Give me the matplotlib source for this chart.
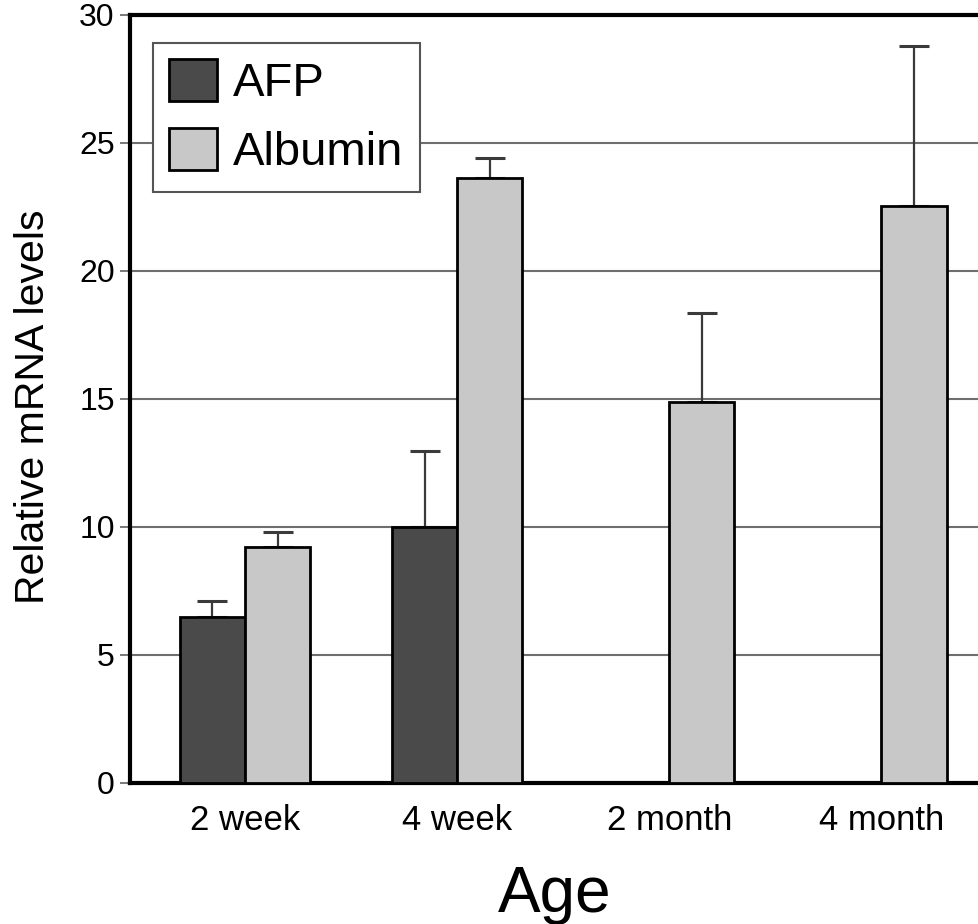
import numpy as np
import matplotlib
matplotlib.use('Agg')
from matplotlib import pyplot as plt

plt.rcParams['font.family'] = ['Liberation Sans', 'DejaVu Sans']

ages = ['2 week', '4 week', '2 month', '4 month']
afp = [6.5, 10.0, 0, 0]
afp_err = [0.6, 2.95, 0, 0]
albumin = [9.2, 23.65, 14.9, 22.55]
albumin_err = [0.6, 0.75, 3.45, 6.25]

c_afp = '#4a4a4a'
c_alb = '#c8c8c8'
w = 0.307

fig = plt.figure(figsize=(9.79, 9.24), dpi=100)
ax = fig.add_axes([130/979, 141/924, 1 - 130/979, 768/924])

x = np.arange(len(ages))
ax.bar(x - w/2, afp, w, color=c_afp, edgecolor='black', linewidth=2, zorder=3, label='AFP')
ax.bar(x + w/2, albumin, w, color=c_alb, edgecolor='black', linewidth=2, zorder=3, label='Albumin')

# upper error bars only, skip the empty AFP groups
for xs, vals, errs in [(x - w/2, afp, afp_err), (x + w/2, albumin, albumin_err)]:
    for xi, v, e in zip(xs, vals, errs):
        if v == 0:
            continue
        pl, caps, bars = ax.errorbar(xi, v, yerr=[[0], [e]], fmt='none', ecolor='#3a3a3a',
                                     elinewidth=1.6, capsize=11, capthick=2.2, zorder=2)
        for c in caps:
            c.set_color('black')

ax.set_xlim(-0.542, 3.46)
ax.set_ylim(0, 30)
ax.set_yticks(np.arange(0, 31, 5))
ax.yaxis.grid(True, color='#6e6e6e', linewidth=1.5, zorder=0)
ax.set_axisbelow(True)

ax.set_xticks(x)
ax.set_xticklabels(ages, fontsize=25)
ax.tick_params(axis='x', length=0, pad=15)
ax.tick_params(axis='y', length=7, width=1.3, color='#6e6e6e', labelsize=23, pad=4)

for s in ['left', 'bottom', 'top']:
    ax.spines[s].set_linewidth(3)
ax.spines['right'].set_visible(False)

ax.set_ylabel('Relative mRNA levels', fontsize=29.5)
ax.yaxis.set_label_coords(-0.092, 0.49)
ax.set_xlabel('Age', fontsize=46, labelpad=20)

leg = ax.legend(loc='upper left', bbox_to_anchor=(0.027, 0.964), borderaxespad=0,
                fontsize=34, fancybox=False, framealpha=1, edgecolor='#555555',
                handlelength=1.0, handleheight=1.0, handletextpad=0.35,
                labelspacing=0.45, borderpad=0.35)
leg.get_frame().set_linewidth(1.5)

fig.savefig('out.png', dpi=100)
